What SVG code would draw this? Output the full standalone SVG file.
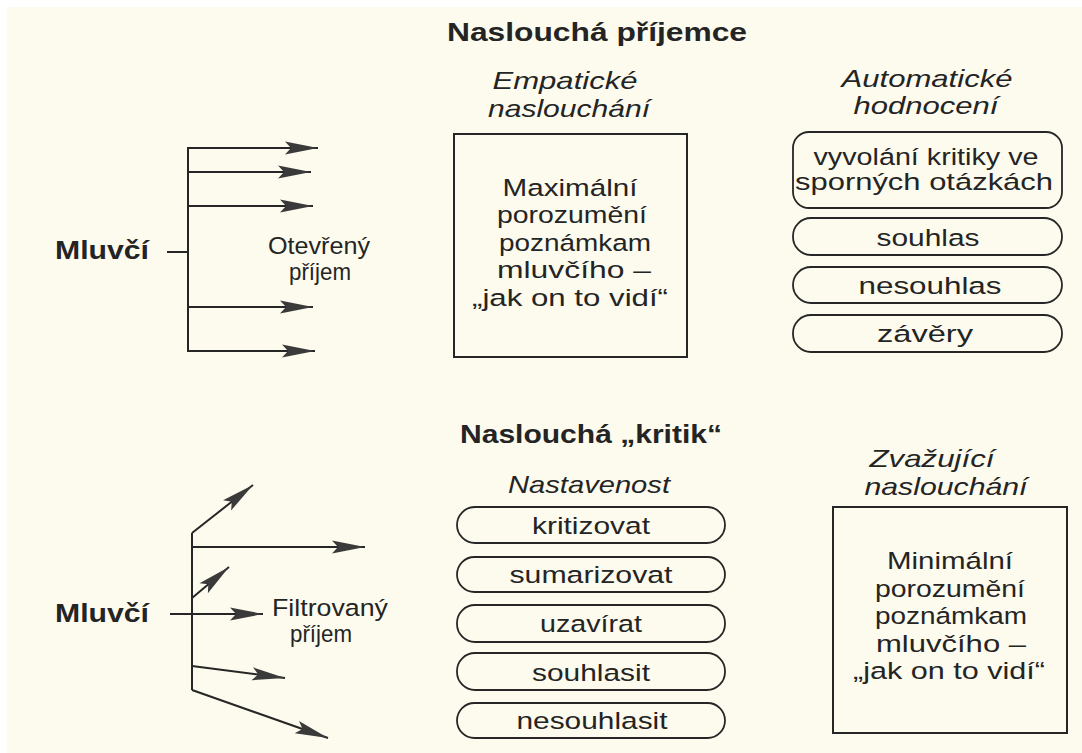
<svg xmlns="http://www.w3.org/2000/svg" width="1082" height="753" viewBox="0 0 1082 753">
<style>
.t{font-family:"Liberation Sans",Arial,Helvetica,sans-serif;fill:#242424;text-anchor:middle;font-size:24.5px}
.b{font-weight:bold;font-size:26px}
.i{font-style:italic;font-size:24px}
.box{fill:none;stroke:#262626;stroke-width:2}
.pill{fill:none;stroke:#262626;stroke-width:1.8}
.ln{stroke:#262626;stroke-width:2;fill:none}
.ar{marker-end:url(#ah)}
</style>
<defs>
<marker id="ah" markerUnits="userSpaceOnUse" markerWidth="36" markerHeight="16" refX="33" refY="6.5" orient="auto" overflow="visible">
<path d="M0,0 L33,6.5 L0,13 L6,6.5 Z" fill="#3a3a3a"/>
</marker>
</defs>
<rect x="0" y="0" width="1082" height="753" fill="#ffffff"/>
<rect x="7" y="7" width="1075" height="746" fill="#fdfbee"/>

<g id="connectors">
<line class="ln" x1="188" y1="148" x2="188" y2="352"/>
<line class="ln" x1="167" y1="252" x2="188" y2="252"/>
<line class="ln ar" x1="187" y1="148" x2="318" y2="148"/>
<line class="ln ar" x1="187" y1="172" x2="311" y2="172"/>
<line class="ln ar" x1="187" y1="206" x2="313" y2="206"/>
<line class="ln ar" x1="187" y1="307" x2="313" y2="307"/>
<line class="ln ar" x1="187" y1="351" x2="315" y2="351"/>

<line class="ln" x1="192" y1="533" x2="192" y2="690"/>
<line class="ln ar" x1="192" y1="533" x2="253" y2="485"/>
<line class="ln ar" x1="192" y1="547" x2="365" y2="547"/>
<line class="ln ar" x1="192" y1="598" x2="229" y2="567"/>
<line class="ln ar" x1="170" y1="614" x2="263" y2="614"/>
<line class="ln ar" x1="192" y1="666" x2="285" y2="678"/>
<line class="ln ar" x1="192" y1="690" x2="328" y2="738"/>
</g>

<g id="title-top">
<text class="t b" x="597" y="41" textLength="300" lengthAdjust="spacingAndGlyphs">Naslouchá příjemce</text>
</g>
<g id="speaker-top">
<text class="t b" x="102" y="259" font-size="25" textLength="94" lengthAdjust="spacingAndGlyphs">Mluvčí</text>
</g>
<g id="open-reception">
<text class="t" x="319" y="254" textLength="102" lengthAdjust="spacingAndGlyphs">Otevřený</text>
<text class="t" x="320" y="280" textLength="62" lengthAdjust="spacingAndGlyphs">příjem</text>
</g>
<g id="empathic-label">
<text class="t i" x="565" y="89" textLength="145" lengthAdjust="spacingAndGlyphs">Empatické</text>
<text class="t i" x="569" y="117" textLength="162" lengthAdjust="spacingAndGlyphs">naslouchání</text>
</g>
<g id="empathic-box">
<rect class="box" x="454" y="134" width="233" height="223"/>
<text class="t" x="570" y="196" textLength="135" lengthAdjust="spacingAndGlyphs">Maximální</text>
<text class="t" x="572" y="223" textLength="150" lengthAdjust="spacingAndGlyphs">porozumění</text>
<text class="t" x="575" y="251" textLength="152" lengthAdjust="spacingAndGlyphs">poznámkam</text>
<text class="t" x="574" y="278" textLength="154" lengthAdjust="spacingAndGlyphs">mluvčího –</text>
<text class="t" x="570" y="306" textLength="196" lengthAdjust="spacingAndGlyphs">„jak on to vidí“</text>
</g>
<g id="auto-label">
<text class="t i" x="927" y="87" textLength="171" lengthAdjust="spacingAndGlyphs">Automatické</text>
<text class="t i" x="926" y="114" textLength="145" lengthAdjust="spacingAndGlyphs">hodnocení</text>
</g>
<g id="auto-1">
<rect class="pill" x="793" y="132" width="269" height="76" rx="16"/>
<text class="t" x="926" y="165" textLength="225" lengthAdjust="spacingAndGlyphs">vyvolání kritiky ve</text>
<text class="t" x="924" y="190" textLength="258" lengthAdjust="spacingAndGlyphs">sporných otázkách</text>
</g>
<g id="auto-2">
<rect class="pill" x="793" y="218" width="269" height="37" rx="18"/>
<text class="t" x="928" y="245.5" textLength="103" lengthAdjust="spacingAndGlyphs">souhlas</text>
</g>
<g id="auto-3">
<rect class="pill" x="793" y="267" width="269" height="36" rx="18"/>
<text class="t" x="930" y="293.5" textLength="143" lengthAdjust="spacingAndGlyphs">nesouhlas</text>
</g>
<g id="auto-4">
<rect class="pill" x="793" y="315" width="269" height="37" rx="18"/>
<text class="t" x="925" y="341.5" textLength="96" lengthAdjust="spacingAndGlyphs">závěry</text>
</g>

<g id="title-bottom">
<text class="t b" x="591" y="443" textLength="262" lengthAdjust="spacingAndGlyphs">Naslouchá „kritik“</text>
</g>
<g id="speaker-bottom">
<text class="t b" x="102" y="622" font-size="25" textLength="94" lengthAdjust="spacingAndGlyphs">Mluvčí</text>
</g>
<g id="filtered-reception">
<text class="t" x="330" y="616" textLength="116" lengthAdjust="spacingAndGlyphs">Filtrovaný</text>
<text class="t" x="321" y="642" textLength="62" lengthAdjust="spacingAndGlyphs">příjem</text>
</g>
<g id="set-label">
<text class="t i" x="589" y="493" textLength="162" lengthAdjust="spacingAndGlyphs">Nastavenost</text>
</g>
<g id="set-1">
<rect class="pill" x="457" y="507" width="268" height="36" rx="18"/>
<text class="t" x="591" y="533.5" textLength="118" lengthAdjust="spacingAndGlyphs">kritizovat</text>
</g>
<g id="set-2">
<rect class="pill" x="457" y="557" width="268" height="35" rx="17.5"/>
<text class="t" x="591" y="582.5" textLength="163" lengthAdjust="spacingAndGlyphs">sumarizovat</text>
</g>
<g id="set-3">
<rect class="pill" x="457" y="605" width="268" height="37" rx="18"/>
<text class="t" x="591" y="631.5" textLength="102" lengthAdjust="spacingAndGlyphs">uzavírat</text>
</g>
<g id="set-4">
<rect class="pill" x="457" y="653" width="268" height="37" rx="18"/>
<text class="t" x="591" y="680.5" textLength="118" lengthAdjust="spacingAndGlyphs">souhlasit</text>
</g>
<g id="set-5">
<rect class="pill" x="457" y="703" width="268" height="35" rx="17.5"/>
<text class="t" x="592" y="728.5" textLength="151" lengthAdjust="spacingAndGlyphs">nesouhlasit</text>
</g>
<g id="weighing-label">
<text class="t i" x="932" y="467" textLength="125" lengthAdjust="spacingAndGlyphs">Zvažující</text>
<text class="t i" x="946" y="495" textLength="163" lengthAdjust="spacingAndGlyphs">naslouchání</text>
</g>
<g id="weighing-box">
<rect class="box" x="833" y="507" width="234" height="226"/>
<text class="t" x="950" y="569" textLength="126" lengthAdjust="spacingAndGlyphs">Minimální</text>
<text class="t" x="950" y="597" textLength="150" lengthAdjust="spacingAndGlyphs">porozumění</text>
<text class="t" x="951" y="624" textLength="152" lengthAdjust="spacingAndGlyphs">poznámkam</text>
<text class="t" x="951" y="652" textLength="150" lengthAdjust="spacingAndGlyphs">mluvčího –</text>
<text class="t" x="949" y="679" textLength="192" lengthAdjust="spacingAndGlyphs">„jak on to vidí“</text>
</g>
</svg>
